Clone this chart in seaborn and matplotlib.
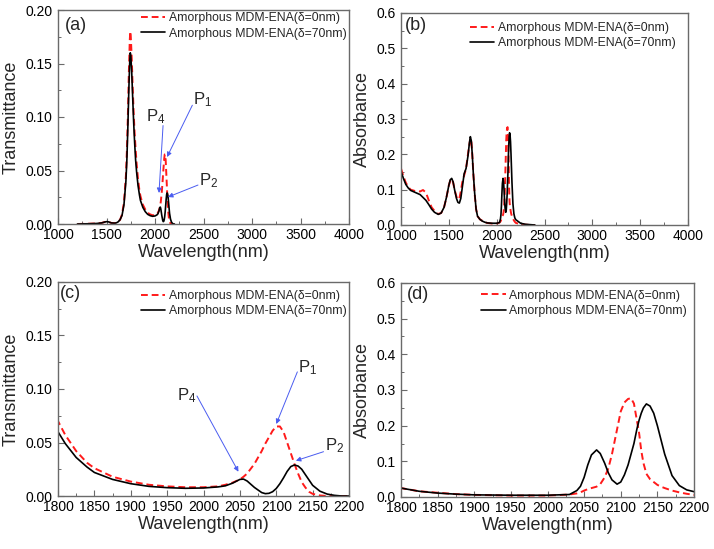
import numpy as np
import pandas as pd
import matplotlib
matplotlib.use("Agg")
import matplotlib.pyplot as plt
from matplotlib.ticker import MultipleLocator, FormatStrFormatter
import seaborn as sns

# ---------------- data ----------------
label0 = "Amorphous MDM-ENA(δ=0nm)"
label70 = "Amorphous MDM-ENA(δ=70nm)"

t_wl = [1200, 1300, 1400, 1450, 1480, 1500, 1520, 1550, 1580, 1600, 1620, 1640, 1660,
        1680, 1700, 1710, 1720, 1730, 1740, 1745, 1750, 1760, 1770, 1780, 1790, 1800,
        1810, 1825, 1840, 1850, 1875, 1900, 1925, 1950, 1975, 2000, 2020, 2030, 2040,
        2050, 2055, 2060, 2070, 2080, 2085, 2090, 2095, 2100, 2105, 2110, 2115, 2120,
        2125, 2130, 2135, 2140, 2145, 2150, 2160, 2170, 2180, 2190, 2200]
t_d0 = [0.0, 0.0002, 0.0005, 0.001, 0.0018, 0.0022, 0.002, 0.001, 0.0008, 0.001, 0.002,
        0.004, 0.009, 0.02, 0.045, 0.068, 0.10, 0.14, 0.172, 0.18, 0.176, 0.155, 0.128,
        0.104, 0.085, 0.070, 0.057, 0.042, 0.031, 0.026, 0.018, 0.0135, 0.0105, 0.009,
        0.0082, 0.0082, 0.009, 0.0105, 0.0125, 0.0155, 0.018, 0.021, 0.030, 0.042, 0.049,
        0.055, 0.061, 0.065, 0.065, 0.060, 0.050, 0.040, 0.030, 0.021, 0.013, 0.008,
        0.004, 0.002, 0.0005, 0.0, 0.0, 0.0, 0.0]
t_d70 = [0.0, 0.0002, 0.0005, 0.001, 0.0018, 0.0022, 0.002, 0.001, 0.0008, 0.001, 0.002,
         0.004, 0.008, 0.018, 0.040, 0.060, 0.090, 0.125, 0.153, 0.160, 0.158, 0.142,
         0.118, 0.095, 0.076, 0.060, 0.049, 0.036, 0.027, 0.022, 0.0155, 0.0115, 0.009,
         0.0078, 0.0072, 0.0075, 0.0085, 0.0095, 0.012, 0.0155, 0.0158, 0.014, 0.008,
         0.0032, 0.0022, 0.0025, 0.004, 0.007, 0.0115, 0.017, 0.023, 0.0275, 0.029, 0.028,
         0.025, 0.020, 0.015, 0.010, 0.0045, 0.0018, 0.0006, 0.0, 0.0]

a_wl = [1000, 1025, 1050, 1075, 1100, 1150, 1200, 1230, 1260, 1290, 1320, 1350, 1390,
        1420, 1450, 1475, 1500, 1515, 1530, 1545, 1560, 1580, 1595, 1610, 1625, 1640,
        1660, 1680, 1700, 1715, 1725, 1735, 1745, 1755, 1770, 1785, 1800, 1825, 1850,
        1875, 1900, 1950, 2000, 2030, 2040, 2045, 2050, 2055, 2060, 2067, 2072, 2078,
        2083, 2088, 2095, 2100, 2105, 2110, 2114, 2118, 2122, 2125, 2128, 2131, 2135,
        2140, 2145, 2150, 2155, 2160, 2170, 2180, 2190, 2200, 2250, 2300, 2350, 2400]
a_d70 = [0.152, 0.132, 0.115, 0.105, 0.098, 0.092, 0.086, 0.078, 0.070, 0.058, 0.045,
         0.036, 0.030, 0.034, 0.050, 0.078, 0.112, 0.128, 0.132, 0.122, 0.100, 0.075,
         0.064, 0.062, 0.075, 0.105, 0.145, 0.160, 0.195, 0.232, 0.250, 0.238, 0.200,
         0.150, 0.090, 0.045, 0.025, 0.016, 0.011, 0.008, 0.006, 0.005, 0.005, 0.007,
         0.018, 0.030, 0.055, 0.090, 0.118, 0.132, 0.122, 0.095, 0.068, 0.048, 0.036,
         0.042, 0.062, 0.090, 0.120, 0.150, 0.190, 0.215, 0.235, 0.250, 0.261, 0.255,
         0.235, 0.200, 0.160, 0.120, 0.060, 0.032, 0.020, 0.015, 0.005, 0.002, 0.001, 0.0]
a_d0 = [0.160, 0.138, 0.120, 0.108, 0.100, 0.096, 0.095, 0.099, 0.092, 0.070, 0.050,
        0.040, 0.031, 0.034, 0.050, 0.078, 0.112, 0.126, 0.130, 0.120, 0.100, 0.080,
        0.072, 0.075, 0.095, 0.120, 0.140, 0.160, 0.200, 0.228, 0.245, 0.238, 0.200,
        0.150, 0.088, 0.045, 0.025, 0.016, 0.012, 0.008, 0.006, 0.004, 0.004, 0.007,
        0.010, 0.013, 0.018, 0.022, 0.025, 0.029, 0.036, 0.055, 0.080, 0.120, 0.190,
        0.240, 0.265, 0.275, 0.277, 0.262, 0.215, 0.180, 0.130, 0.095, 0.065, 0.050,
        0.042, 0.034, 0.029, 0.025, 0.018, 0.013, 0.009, 0.006, 0.002, 0.001, 0.0, 0.0]

# ---------------- style ----------------
sns.set_style("ticks")
plt.rcParams["font.family"] = ["Liberation Sans", "DejaVu Sans"]
plt.rcParams["mathtext.default"] = "regular"
plt.rcParams["mathtext.fontset"] = "custom"
plt.rcParams["mathtext.rm"] = "Liberation Sans"
plt.rcParams["mathtext.it"] = "Liberation Sans"

RED = "#ff1a1a"
BLACK = "#000000"
SPINE = "#6a6a6a"
ARROW = "#4a5cf0"
DASH = (0, (3.5, 2.0))

fig = plt.figure(figsize=(7.14, 5.49), dpi=100)
W, H = 714, 549

def add_ax(l, t, r, b):
    return fig.add_axes([l / W, 1 - b / H, (r - l) / W, (b - t) / H])

ax_a = add_ax(58, 10, 349, 224)
ax_b = add_ax(401, 13, 688, 225)
ax_c = add_ax(58, 282, 349, 496)
ax_d = add_ax(401, 283, 694, 497)

df_t = pd.DataFrame({"wl": t_wl, "d0": t_d0, "d70": t_d70})
df_a = pd.DataFrame({"wl": a_wl, "d0": a_d0, "d70": a_d70})

def draw(ax, df, xlim, ylim, xmaj, xmin, ymaj, ymin, yfmt, ylabel, tag,
         leg_anchor):
    sns.lineplot(data=df, x="wl", y="d0", ax=ax, color=RED, lw=1.4,
                 linestyle=DASH, label=label0, sort=False)
    sns.lineplot(data=df, x="wl", y="d70", ax=ax, color=BLACK, lw=1.2,
                 label=label70, sort=False)
    ax.set_xlim(*xlim)
    ax.set_ylim(*ylim)
    ax.xaxis.set_major_locator(MultipleLocator(xmaj))
    ax.xaxis.set_minor_locator(MultipleLocator(xmin))
    ax.yaxis.set_major_locator(MultipleLocator(ymaj))
    ax.yaxis.set_minor_locator(MultipleLocator(ymin))
    ax.yaxis.set_major_formatter(FormatStrFormatter(yfmt))
    ax.set_xlabel("Wavelength(nm)", fontsize=13, labelpad=1)
    ax.set_ylabel(ylabel, fontsize=13, labelpad=4)
    for s in ax.spines.values():
        s.set_visible(True)
        s.set_color(SPINE)
        s.set_linewidth(1.0)
    ax.tick_params(axis="both", which="both", direction="in", colors=SPINE,
                   labelcolor="black", top=False, right=False)
    ax.tick_params(axis="both", which="major", length=4, width=0.8, labelsize=10)
    ax.tick_params(axis="both", which="minor", length=2, width=0.7)
    ax.tick_params(axis="x", which="major", pad=3)
    ax.tick_params(axis="y", which="major", pad=4)
    ax.text(tag[1], tag[2], tag[0], transform=ax.transAxes, fontsize=13,
            ha="left", va="top")
    ax.legend(loc="upper right", bbox_to_anchor=leg_anchor, frameon=False,
              fontsize=8.8, handlelength=2.0, handletextpad=0.3,
              labelspacing=0.25, borderaxespad=0.0, borderpad=0.2)

draw(ax_a, df_t, (1000, 4000), (0, 0.20), 500, 250, 0.05, 0.025, "%.2f",
     "Transmittance", ("(a)", 0.025, 0.965), (1.0, 1.0))
draw(ax_b, df_a, (1000, 4000), (0, 0.6), 500, 250, 0.1, 0.05, "%.1f",
     "Absorbance", ("(b)", 0.014, 0.982), (0.965, 0.97))
draw(ax_c, df_t, (1800, 2200), (0, 0.20), 50, 25, 0.05, 0.025, "%.2f",
     "Transmittance", ("(c)", 0.008, 0.985), (1.0, 0.975))
draw(ax_d, df_a, (1800, 2200), (0, 0.6), 50, 25, 0.1, 0.05, "%.1f",
     "Absorbance", ("(d)", 0.02, 0.988), (0.985, 0.98))

def peak(ax, txt, txy, start, tip):
    ax.text(txy[0], txy[1], txt, fontsize=12, ha="left", va="baseline")
    ax.annotate("", xy=tip, xytext=start,
                arrowprops=dict(arrowstyle="-|>", color=ARROW, lw=0.7,
                                mutation_scale=7, shrinkA=0, shrinkB=0))

peak(ax_a, "P$_4$", (1904, 0.0956), (2083, 0.092), (2041, 0.029))
peak(ax_a, "P$_1$", (2389, 0.112), (2385, 0.111), (2124, 0.0626))
peak(ax_a, "P$_2$", (2454, 0.0364), (2443, 0.0364), (2134, 0.0252))

peak(ax_c, "P$_4$", (1963, 0.0897), (1991, 0.0935), (2048, 0.0227))
peak(ax_c, "P$_1$", (2130, 0.116), (2129, 0.116), (2100, 0.0673))
peak(ax_c, "P$_2$", (2167, 0.043), (2165, 0.0414), (2127, 0.033))

fig.savefig("out.png", dpi=100)
